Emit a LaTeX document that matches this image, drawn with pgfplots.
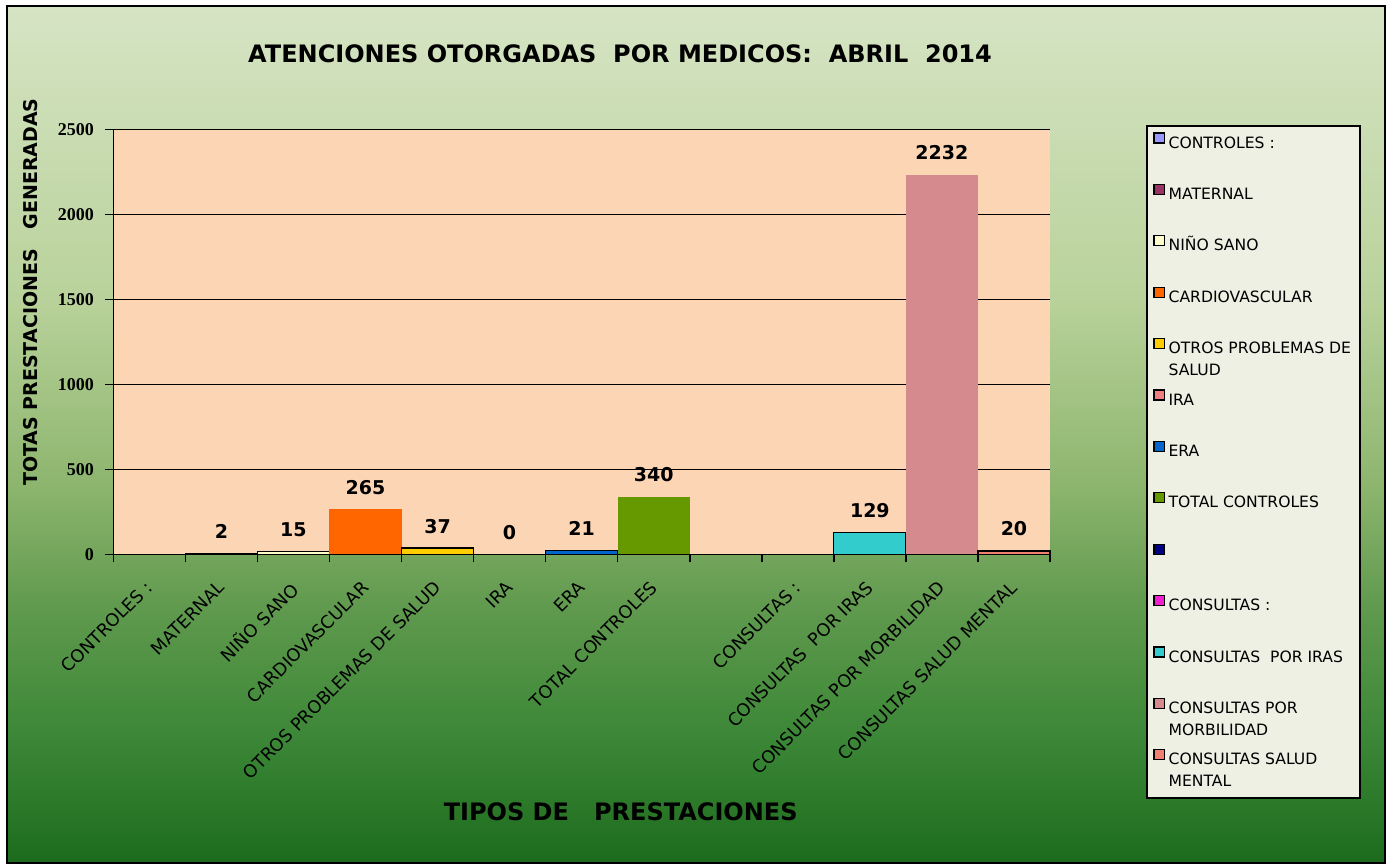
\documentclass[border=0pt]{standalone}
\usepackage{pgfplots}
\pgfplotsset{compat=1.18}
\usepackage{fontspec}
\setmainfont{DejaVu Sans}
\newfontfamily\numfont{Liberation Serif}

\definecolor{g0}{HTML}{1C6B1C}
\definecolor{g1}{HTML}{3A8636}
\definecolor{g2}{HTML}{609A4E}
\definecolor{g3}{HTML}{8DB56E}
\definecolor{g4}{HTML}{B9D29B}
\definecolor{g5}{HTML}{D6E4C4}
\definecolor{peach}{HTML}{FCD5B5}
\definecolor{legbg}{HTML}{EDF0E3}

\definecolor{cCtrl}{HTML}{9999FF}
\definecolor{cMat}{HTML}{993366}
\definecolor{cNino}{HTML}{FFFFCC}
\definecolor{cCardio}{HTML}{FF6600}
\definecolor{cOtros}{HTML}{FFCC00}
\definecolor{cIra}{HTML}{F08080}
\definecolor{cEra}{HTML}{0066CC}
\definecolor{cTotal}{HTML}{669900}
\definecolor{cBlank}{HTML}{000080}
\definecolor{cCons}{HTML}{F020D0}
\definecolor{cCpi}{HTML}{33CCCC}
\definecolor{cMorb}{HTML}{D58A8E}
\definecolor{cSm}{HTML}{F08070}

\pgfdeclareverticalshading{bgshade}{100bp}{color(0bp)=(g0); color(25bp)=(g0); color(32bp)=(g1); color(40bp)=(g2); color(47bp)=(g3); color(58bp)=(g4); color(75bp)=(g5); color(100bp)=(g5)}

\pgfplotsset{
  cat/.style={ybar, bar width=1, bar shift=0pt, fill=#1, line width=0.6pt,
    legend image code/.code={\draw[##1, line width=0.6pt] (0pt,-0.3pt) rectangle (5.2pt,4.7pt);}},
}
\newcommand{\twol}[2]{\begin{tabular}[t]{@{}l@{}}#1\\#2\end{tabular}}

\begin{document}
\begin{tikzpicture}
% background, frame and legend box (1px = 0.5pt)
\begin{scope}[x=0.5pt,y=-0.5pt]
\fill[white] (0,0) rectangle (1390,865);
\shade[shading=bgshade] (7,6) rectangle (1385,863);
\draw[black, line width=1.2pt] (7,6) rectangle (1385,863);
\draw[black, line width=0.75pt, fill=legbg] (1147,126) rectangle (1360,798);
\end{scope}

\begin{axis}[
  at={(56.65pt,-277.15pt)}, anchor=south west,
  scale only axis, width=468.35pt, height=212.5pt,
  xmin=-0.5, xmax=12.5, ymin=0, ymax=2500,
  clip=false,
  axis lines*=left,
  axis line style={black, line width=0.8pt},
  axis background/.style={fill=peach},
  tick align=outside,
  major tick length=4pt,
  tick style={black, line width=0.8pt},
  ytick={0,500,...,2500},
  ymajorgrids,
  major grid style={black, line width=0.5pt},
  extra y ticks={1500},
  extra y tick labels={},
  extra y tick style={grid style={black, line width=1.1pt}},
  xtick={-0.5,0.5,...,12.5},
  x tick label as interval,
  xticklabels={CONTROLES :, MATERNAL, NIÑO SANO, CARDIOVASCULAR, OTROS PROBLEMAS DE SALUD, IRA, ERA, TOTAL CONTROLES, {}, CONSULTAS :, CONSULTAS~~POR IRAS, CONSULTAS POR MORBILIDAD, CONSULTAS SALUD MENTAL, {}},
  xticklabel style={xshift=-2.5pt, rotate=45, anchor=north east, inner sep=0pt, font=\fontsize{8.8}{10}\selectfont},
  xticklabel shift=8.5pt,
  yticklabel style={inner sep=0pt, font=\numfont\bfseries\fontsize{9}{10}\selectfont},
  yticklabel shift=5.5pt,
  /pgf/number format/assume math mode=true,
  /pgf/number format/1000 sep={},
  title={ATENCIONES OTORGADAS~~POR MEDICOS:~~ABRIL~~2014},
  title style={at={(0.541,1.149)}, anchor=center, font=\bfseries\fontsize{12}{14}\selectfont},
  xlabel={TIPOS DE~~~PRESTACIONES},
  xlabel style={at={(0.5417,-0.6064)}, anchor=center, font=\bfseries\fontsize{12}{14}\selectfont},
  ylabel={TOTAS PRESTACIONES~~~GENERADAS},
  ylabel style={at={(-0.0879,0.617)}, anchor=center, font=\bfseries\fontsize{9.5}{11}\selectfont},
  every node near coord/.append style={anchor=base, yshift=7.5pt, inner sep=0pt, black, font=\bfseries\fontsize{9.5}{11}\selectfont},
  legend cell align=left,
  legend style={at={(1.10996,0.9935)}, anchor=north west, draw=none, fill=none,
    inner sep=0pt, row sep=17.85pt, column sep=1.8pt,
    nodes={inner sep=0pt, text height=5.7pt, text depth=0pt, font=\fontsize{7.8}{11}\selectfont}},
]
\addlegendimage{cat=cCtrl, draw=black}
\addlegendentry{CONTROLES :}
\addplot[cat=cMat, draw=black, nodes near coords] coordinates {(1,2)};
\addlegendentry{MATERNAL}
\addplot[cat=cNino, draw=black, nodes near coords] coordinates {(2,15)};
\addlegendentry{NIÑO SANO}
\addplot[cat=cCardio, draw=none, nodes near coords] coordinates {(3,265)};
\addlegendentry{CARDIOVASCULAR}
\addplot[cat=cOtros, draw=black, nodes near coords] coordinates {(4,37)};
\addlegendentry{\twol{OTROS PROBLEMAS DE}{SALUD}}
\addplot[cat=cIra, draw=black, nodes near coords] coordinates {(5,0)};
\addlegendentry{IRA}
\addplot[cat=cEra, draw=black, nodes near coords] coordinates {(6,21)};
\addlegendentry{ERA}
\addplot[cat=cTotal, draw=none, nodes near coords] coordinates {(7,340)};
\addlegendentry{TOTAL CONTROLES}
\addlegendimage{cat=cBlank, draw=black}
\addlegendentry{\mbox{}}
\addlegendimage{cat=cCons, draw=black}
\addlegendentry{CONSULTAS :}
\addplot[cat=cCpi, draw=black, nodes near coords] coordinates {(10,129)};
\addlegendentry{CONSULTAS~~POR IRAS}
\addplot[cat=cMorb, draw=none, nodes near coords] coordinates {(11,2232)};
\addlegendentry{\twol{CONSULTAS POR}{MORBILIDAD}}
\addplot[cat=cSm, draw=black, nodes near coords] coordinates {(12,20)};
\addlegendentry{\twol{CONSULTAS SALUD}{MENTAL}}
\end{axis}
\pgfresetboundingbox
\path[use as bounding box] (0pt,0pt) rectangle (695pt,-432.5pt);
\end{tikzpicture}
\end{document}
